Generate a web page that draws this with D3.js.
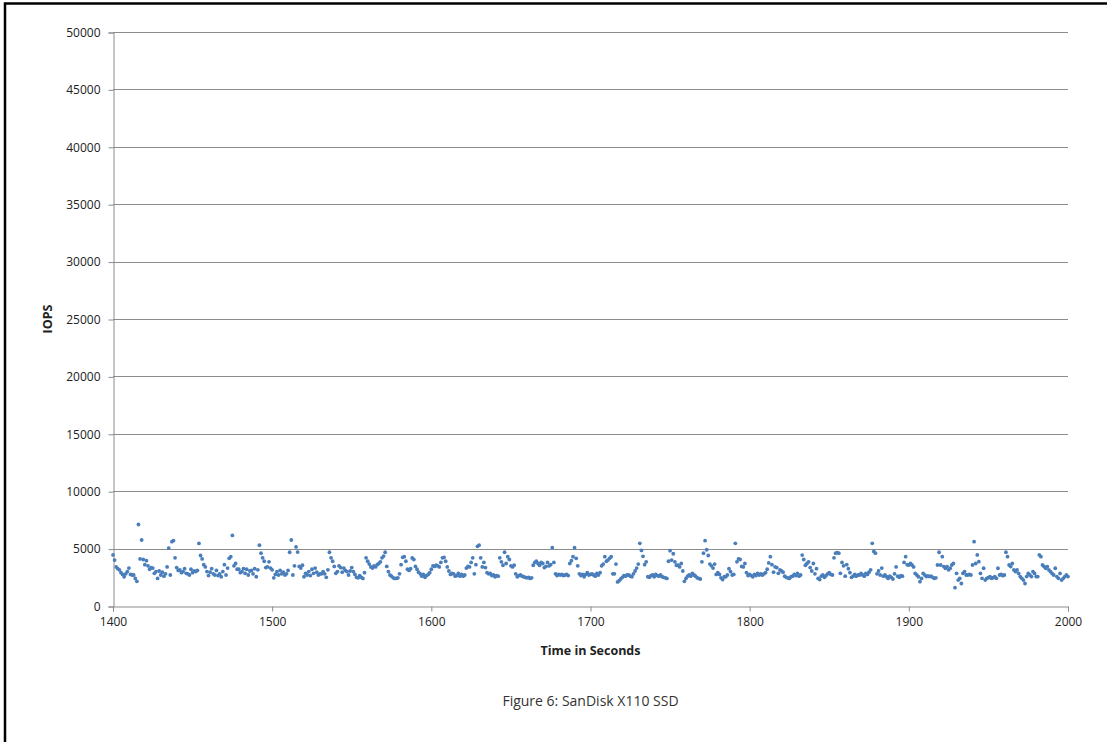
<!DOCTYPE html>
<html lang="en">
  <head>
    <meta charset="utf-8" />
    <title>SanDisk X110 SSD</title>
    <script src="https://d3js.org/d3.v7.min.js"></script>
    <style>
      body { margin: 0; background: #fff; }
      svg { display: block; }
      .tick text { font-family: "Open Sans", "Noto Sans", sans-serif; font-size: 12px; fill: #222; }
    </style>
  </head>
  <body>
    <script>
      // one reading per second, 1400 .. 2000
      var startTime = 1400;
      var iops = [
        4450,4000,3400,3250,3150,2900,2750,2550,2800,3000,
        3300,2750,2700,2700,2400,2150,7100,4100,5750,4050,
        3600,3950,3500,3200,3350,3300,2850,3000,2400,3050,
        2700,2950,2600,2800,3400,5050,2700,5600,5700,4200,
        3350,3100,3150,2900,3000,3250,2850,2800,2700,3200,
        2900,3050,3000,3100,5450,4400,4100,3600,3400,3000,
        2650,2950,3250,2800,2700,3100,2650,2800,2550,3000,
        3600,2700,3300,4150,4300,6150,3500,3700,3200,3200,
        2900,3000,3250,2850,3200,2700,3050,3100,2800,3250,
        2550,3150,5300,4600,4200,3900,3350,3400,3850,3300,
        3150,2450,2750,3000,2700,3100,2800,2950,2700,2800,
        3100,4680,5750,2700,3500,5150,4700,3450,3300,3550,
        2550,2850,2700,3000,2650,3200,2850,3300,2950,2700,
        2800,2800,3000,2800,2500,3150,4680,4200,3900,3450,
        2850,3000,3500,3350,2950,3300,3100,3000,2700,3050,
        3350,3000,2750,2500,2450,2650,2500,2400,2900,4200,
        3900,3650,3400,3300,3500,3400,3600,3700,3850,4200,
        4350,4680,3450,3000,2700,2600,2450,2400,2400,2450,
        2800,3600,4240,4300,3900,3200,3100,3250,4180,4050,
        3450,3200,2950,2800,2600,2750,2500,2650,2750,2900,
        3200,3500,3450,3550,3500,3400,3800,4200,4240,3900,
        3400,3050,2750,2850,2800,2600,2650,2850,2600,2750,
        2600,2700,3300,3450,3400,3800,4200,2800,3600,5200,
        5300,4200,3400,3800,3350,2900,2800,2850,2650,2700,
        2550,2650,2600,4200,3850,3550,4680,3700,4300,4050,
        3500,3400,3550,2800,2550,2650,2700,2600,2550,2500,
        2450,2500,2400,2450,3550,3800,3900,3700,3550,3800,
        3700,3350,3450,3800,3500,3600,5080,3800,2800,2650,
        2750,2700,2750,2650,2700,2750,2650,3700,3950,4300,
        5080,4150,3500,2800,2650,2750,2550,2750,2900,2700,
        2750,2800,2700,2600,2850,2700,2900,3500,3650,4300,
        3900,4000,4150,4300,2800,2800,3650,2100,2200,2350,
        2500,2650,2600,2700,2700,2600,2550,2800,3050,3300,
        3650,5460,4840,4330,3600,3850,2550,2500,2650,2700,
        2550,2750,2650,2600,2700,2550,2500,2450,2400,3900,
        4820,4000,4550,3850,3550,3550,3400,3700,3050,2150,
        2400,2600,2700,2600,2850,2700,2600,2450,2400,2350,
        3850,4600,5690,4900,4400,3650,3500,3300,3650,2750,
        2900,2750,2450,2300,2550,2550,2700,3250,3000,2700,
        2750,5460,3850,4100,4050,3450,3400,3700,2900,2650,
        2750,2650,2550,2750,2650,2850,2700,2800,2700,2800,
        2900,3200,3750,4300,3600,2950,3400,3350,2850,3150,
        3050,2950,2600,2500,2450,2400,2550,2600,2750,2650,
        2850,2600,2700,4440,4050,3550,3700,3850,3350,3050,
        3700,2800,3250,2400,2300,2600,2700,2500,2650,2800,
        2900,2750,2700,4200,4600,4650,4600,2850,3800,3500,
        2600,3600,3250,2900,2500,2600,2750,2600,2700,2700,
        2850,2700,2600,2850,2750,2950,3150,5460,4750,4600,
        2800,3050,2700,3300,2600,2700,2550,2400,2600,2500,
        2350,2800,3400,2600,2500,2650,2600,3800,4300,3600,
        3570,3700,3570,3400,2840,2700,2550,2120,2400,2840,
        2700,2560,2620,2560,2600,2500,2410,2450,3570,4680,
        3570,4300,3430,3290,3430,3150,3290,3570,3700,1600,
        2850,2260,2400,1960,2850,3000,2700,2700,2750,2700,
        3570,5600,3700,4450,3860,2840,2410,3290,2260,2410,
        2470,2560,2410,2470,2560,2410,3290,2700,2760,2640,
        2700,4680,4300,3570,3430,3700,3140,3000,3140,2840,
        2560,2410,2260,1960,2560,2840,2700,2560,2990,2840,
        2560,2560,4450,4300,3570,3430,3290,3430,3140,3000,
        2840,2700,3290,2560,2410,2840,2260,2410,2560,2700,
        2560
      ];
      var xTicks = [1400, 1500, 1600, 1700, 1800, 1900, 2000];
      var yTicks = [0, 5000, 10000, 15000, 20000, 25000, 30000, 35000, 40000, 45000, 50000];

      var width = 1107;
      var height = 742;
      var plotL = 113, plotR = 1068, plotT = 32, plotB = 606;

      var svg = d3.select("body")
        .append("svg")
        .attr("width", width)
        .attr("height", height);

      // outer frame (runs off the right and bottom)
      svg.append("rect")
        .attr("x", 5)
        .attr("y", 3.5)
        .attr("width", 1120)
        .attr("height", 760)
        .style("fill", "#fff")
        .style("stroke", "#000")
        .style("stroke-width", 2.5);

      var x = d3.scaleLinear().domain([1400, 2000]).range([plotL, plotR]);
      var y = d3.scaleLinear().domain([0, 50000]).range([plotB, plotT]);

      // grid lines
      svg.append("g")
        .selectAll("line")
        .data(yTicks.slice(1))
        .enter()
        .append("line")
        .attr("x1", plotL)
        .attr("x2", plotR)
        .attr("y1", function (d) { return Math.round(y(d)) + 0.5; })
        .attr("y2", function (d) { return Math.round(y(d)) + 0.5; })
        .style("stroke", "#8c8c8c")
        .style("stroke-width", 1);

      var yAxis = svg.append("g")
        .attr("transform", "translate(" + (plotL + 0.5) + ",0.5)")
        .call(d3.axisLeft(y).tickValues(yTicks).tickSize(5).tickPadding(8).tickFormat(d3.format("d")));

      var xAxis = svg.append("g")
        .attr("transform", "translate(0," + (plotB + 0.5) + ")")
        .call(d3.axisBottom(x).tickValues(xTicks).tickSize(5).tickPadding(6).tickFormat(d3.format("d")));

      [xAxis, yAxis].forEach(function (a) {
        a.select(".domain").style("stroke", "#8c8c8c");
        a.selectAll(".tick line").style("stroke", "#8c8c8c");
      });

      // points
      svg.append("g")
        .selectAll("circle")
        .data(iops)
        .enter()
        .append("circle")
        .attr("cx", function (d, i) { return x(startTime + i); })
        .attr("cy", function (d) { return y(d); })
        .attr("r", 1.9)
        .style("fill", "#4a7ebb");

      // titles
      svg.append("text")
        .attr("x", (plotL + plotR) / 2)
        .attr("y", 655)
        .attr("text-anchor", "middle")
        .style("font-family", "'Open Sans', 'Noto Sans', sans-serif")
        .style("font-size", "12.5px")
        .style("font-weight", "bold")
        .style("fill", "#222")
        .text("Time in Seconds");

      svg.append("text")
        .attr("transform", "translate(52," + ((plotT + plotB) / 2) + ") rotate(-90)")
        .attr("text-anchor", "middle")
        .style("font-family", "'Open Sans', 'Noto Sans', sans-serif")
        .style("font-size", "12.5px")
        .style("font-weight", "bold")
        .style("fill", "#222")
        .text("IOPS");

      svg.append("text")
        .attr("x", (plotL + plotR) / 2)
        .attr("y", 706)
        .attr("text-anchor", "middle")
        .style("font-family", "'Open Sans', 'Noto Sans', sans-serif")
        .style("font-size", "14px")
        .style("fill", "#333")
        .text("Figure 6: SanDisk X110 SSD");
    </script>
  </body>
</html>
